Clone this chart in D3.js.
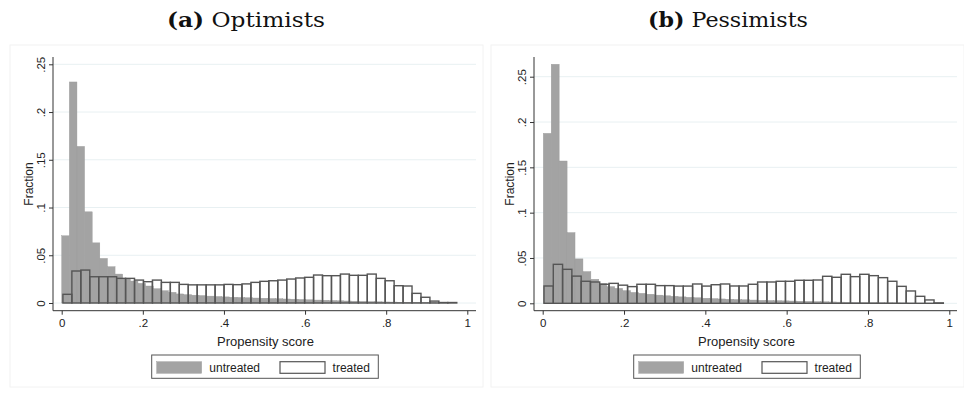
<!DOCTYPE html>
<html>
<head>
<meta charset="utf-8">
<script src="https://cdn.jsdelivr.net/npm/d3@7"></script>
<style>
  body { margin: 0; background: #fff; }
  svg { display: block; }
</style>
</head>
<body>
<svg id="chart" width="964" height="394"></svg>
<script>
// histogram bins: first bin start and bin width, then fractions per bin
const optUntreatedStart = 0.0, optUntreatedWidth = 0.0188
const optUntreated = [0.0704, 0.2315, 0.164, 0.0955, 0.063, 0.0467, 0.038, 0.0303, 0.0258, 0.023,
  0.0206, 0.0178, 0.015, 0.0129, 0.0112, 0.0095, 0.0088, 0.0082, 0.0078, 0.0072,
  0.0068, 0.0064, 0.006, 0.0058, 0.0055, 0.0052, 0.005, 0.0047, 0.0045, 0.0042,
  0.004, 0.0037, 0.0034, 0.0031, 0.0029, 0.0026, 0.0023, 0.0021, 0.0019, 0.0017,
  0.0015, 0.0013, 0.0011, 0.001, 0.0008, 0.0007, 0.0005, 0.0004, 0.0003, 0.0002, 0.0001]

const optTreatedStart = 0.003, optTreatedWidth = 0.02207
const optTreated = [0.0091, 0.0335, 0.0345, 0.0275, 0.0275, 0.0275, 0.0258, 0.0258, 0.024, 0.0223,
  0.024, 0.0216, 0.0216, 0.0195, 0.019, 0.019, 0.019, 0.019, 0.0195, 0.0192,
  0.02, 0.0216, 0.0227, 0.0233, 0.024, 0.0251, 0.0262, 0.0269, 0.0293, 0.0286,
  0.0286, 0.0303, 0.029, 0.029, 0.0303, 0.0258, 0.0233, 0.0181, 0.0178, 0.0101,
  0.006, 0.002, 0.0005, 0.0005]

const pesUntreatedStart = 0.0015, pesUntreatedWidth = 0.0195
const pesUntreated = [0.1875, 0.2637, 0.157, 0.078, 0.049, 0.035, 0.0265, 0.022, 0.0184, 0.0165,
  0.014, 0.012, 0.011, 0.01, 0.009, 0.0083, 0.0077, 0.0071, 0.0066, 0.0061,
  0.0056, 0.0052, 0.0048, 0.0045, 0.0042, 0.0039, 0.0036, 0.0033, 0.0031, 0.0029,
  0.0027, 0.0025, 0.0023, 0.0021, 0.0019, 0.0017, 0.0015, 0.0013, 0.0012, 0.0011,
  0.001, 0.0009, 0.0008, 0.0006, 0.0005, 0.0004, 0.0003, 0.0002, 0.0002, 0.0001]

const pesTreatedStart = 0.0032, pesTreatedWidth = 0.02284
const pesTreated = [0.0191, 0.043, 0.0375, 0.03, 0.0243, 0.0235, 0.021, 0.022, 0.02, 0.0184,
  0.021, 0.021, 0.0195, 0.0195, 0.019, 0.019, 0.0213, 0.019, 0.0205, 0.0213,
  0.0191, 0.0191, 0.021, 0.0235, 0.0235, 0.0243, 0.0243, 0.0254, 0.0254, 0.0257,
  0.0298, 0.0287, 0.032, 0.0294, 0.032, 0.0305, 0.0283, 0.0243, 0.0187, 0.0136,
  0.0077, 0.0037, 0.0005]

const yTicks = [0, 0.05, 0.1, 0.15, 0.2, 0.25]
const xTicks = [0, 0.2, 0.4, 0.6, 0.8, 1]
const legendLabels = ["untreated", "treated"]

const panels = [
  { tag: "(a)", name: " Optimists", titleX: 246, titleW: 158,
    untreated: optUntreated, uStart: optUntreatedStart, uWidth: optUntreatedWidth,
    treated: optTreated, tStart: optTreatedStart, tWidth: optTreatedWidth,
    left: 53, right: 476, x0: 61.7, x1: 467.3, y0: 303, y25: 64.3, legendX: 151.7 },
  { tag: "(b)", name: " Pessimists", titleX: 728, titleW: 160,
    untreated: pesUntreated, uStart: pesUntreatedStart, uWidth: pesUntreatedWidth,
    treated: pesTreated, tStart: pesTreatedStart, tWidth: pesTreatedWidth,
    left: 534, right: 957, x0: 542.7, x1: 949.3, y0: 303.3, y25: 76.7, legendX: 633.7 }
]

const plotTop = 57, plotBottom = 310.7
const grayFill = "#a3a3a3", barLine = "#555555"
const fmt = d => d === 0 ? "0" : d === 1 ? "1" : String(+d.toFixed(2)).replace(/^0/, "")

const svg = d3.select("#chart")

panels.forEach(p => {
  const x = d3.scaleLinear().domain([0, 1]).range([p.x0, p.x1])
  const y = d3.scaleLinear().domain([0, 0.25]).range([p.y0, p.y25])
  const g = svg.append("g")

  // faint graph-region border
  g.append("rect")
    .attr("x", p.left - 43).attr("y", 45)
    .attr("width", p.right - p.left + 50).attr("height", 342)
    .attr("fill", "none").attr("stroke", "#f2f2f2")

  // title
  const t = g.append("text")
    .attr("x", p.titleX).attr("y", 27)
    .attr("text-anchor", "middle")
    .attr("font-family", "'DejaVu Serif', serif")
    .attr("font-size", 20)
    .attr("fill", "#111")
    .attr("textLength", p.titleW).attr("lengthAdjust", "spacingAndGlyphs")
  t.append("tspan").attr("font-weight", "bold").text(p.tag)
  t.append("tspan").text(p.name)

  // gridlines
  g.append("g").selectAll("line")
    .data(yTicks)
    .join("line")
    .attr("x1", p.left).attr("x2", p.right)
    .attr("y1", d => y(d)).attr("y2", d => y(d))
    .attr("stroke", "#e8f0f2").attr("stroke-width", 1)

  // untreated bars
  g.append("g").selectAll("rect")
    .data(p.untreated)
    .join("rect")
    .attr("x", (d, i) => x(p.uStart + i * p.uWidth))
    .attr("width", x(p.uWidth) - x(0))
    .attr("y", d => y(d))
    .attr("height", d => y(0) - y(d))
    .attr("fill", grayFill)
    .attr("stroke", "#9a9a9a").attr("stroke-width", 0.4)

  // treated bars (outline only)
  g.append("g").selectAll("rect")
    .data(p.treated)
    .join("rect")
    .attr("x", (d, i) => x(p.tStart + i * p.tWidth))
    .attr("width", x(p.tWidth) - x(0))
    .attr("y", d => y(d))
    .attr("height", d => y(0) - y(d))
    .attr("fill", "none")
    .attr("stroke", barLine).attr("stroke-width", 1.4)

  // y axis
  const yAxis = g.append("g")
    .attr("transform", `translate(${p.left},0)`)
    .call(d3.axisLeft(y).tickValues(yTicks).tickFormat(fmt).tickSize(4).tickSizeOuter(0))
  yAxis.select(".domain").remove()
  yAxis.selectAll(".tick line").attr("stroke", "#333")
  yAxis.selectAll(".tick text")
    .attr("x", null).attr("dy", null)
    .attr("transform", "translate(-8,0) rotate(-90)")
    .attr("text-anchor", "middle")
    .attr("font-family", "'Liberation Sans', Arial, sans-serif")
    .attr("font-size", 11.5).attr("fill", "#222")
  g.append("line")
    .attr("x1", p.left).attr("x2", p.left)
    .attr("y1", plotTop).attr("y2", plotBottom)
    .attr("stroke", "#333")

  // x axis
  const xAxis = g.append("g")
    .attr("transform", `translate(0,${plotBottom})`)
    .call(d3.axisBottom(x).tickValues(xTicks).tickFormat(fmt).tickSize(4).tickSizeOuter(0))
  xAxis.select(".domain").remove()
  xAxis.selectAll(".tick line").attr("stroke", "#333")
  xAxis.selectAll(".tick text")
    .attr("y", 8).attr("dy", "0.71em")
    .attr("font-family", "'Liberation Sans', Arial, sans-serif")
    .attr("font-size", 11.5).attr("fill", "#222")
  g.append("line")
    .attr("x1", p.left).attr("x2", p.right)
    .attr("y1", plotBottom).attr("y2", plotBottom)
    .attr("stroke", "#333")

  // axis titles
  g.append("text")
    .attr("transform", `translate(${p.left - 20.5},184) rotate(-90)`)
    .attr("text-anchor", "middle")
    .attr("font-family", "'Liberation Sans', Arial, sans-serif")
    .attr("font-size", 12).attr("fill", "#222")
    .text("Fraction")
  g.append("text")
    .attr("x", (p.left + p.right) / 2 + 1).attr("y", 346)
    .attr("text-anchor", "middle")
    .attr("font-family", "'Liberation Sans', Arial, sans-serif")
    .attr("font-size", 13).attr("fill", "#222")
    .text("Propensity score")

  // legend
  const lg = g.append("g").attr("transform", `translate(${p.legendX},355)`)
  lg.append("rect").attr("width", 226.6).attr("height", 23.3)
    .attr("fill", "#fff").attr("stroke", "#555").attr("stroke-width", 1)
  legendLabels.forEach((lab, i) => {
    const ox = i * 123.3
    lg.append("rect")
      .attr("x", 5 + ox).attr("y", 6.7).attr("width", 45).attr("height", 11.6)
      .attr("fill", i === 0 ? grayFill : "#fff")
      .attr("stroke", i === 0 ? grayFill : barLine).attr("stroke-width", i === 0 ? 0.5 : 1.2)
    lg.append("text")
      .attr("x", 57.6 + ox).attr("y", 16.8)
      .attr("font-family", "'Liberation Sans', Arial, sans-serif")
      .attr("font-size", 12).attr("fill", "#222")
      .text(lab)
  })
})
</script>
</body>
</html>
